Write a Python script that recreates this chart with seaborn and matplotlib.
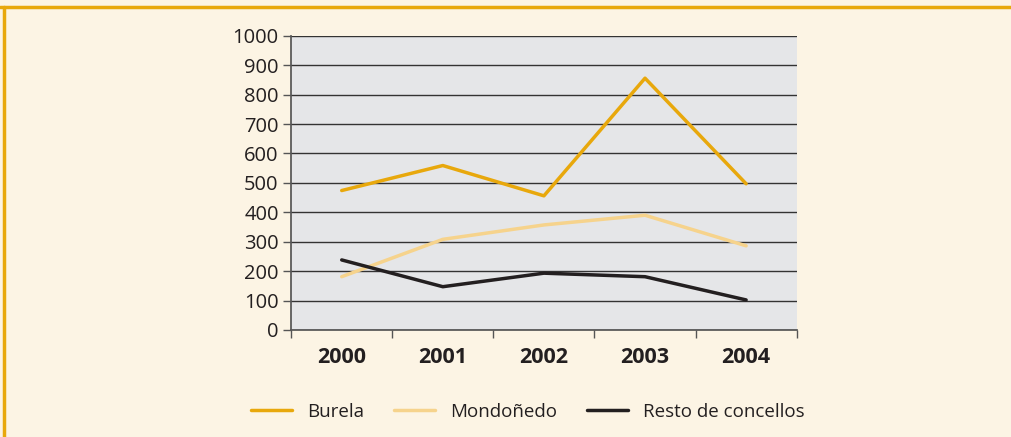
import numpy as np
import pandas as pd
import seaborn as sns
import matplotlib.pyplot as plt

years = ["2000", "2001", "2002", "2003", "2004"]
burela = [474, 559, 456, 856, 497]
mondonedo = [181, 308, 357, 390, 286]
resto = [238, 147, 193, 181, 102]
series_names = ["Burela", "Mondoñedo", "Resto de concellos"]
colors = ["#E8A80C", "#F6D38C", "#231F20"]

df = pd.DataFrame({
    "x": list(range(len(years))) * 3,
    "value": burela + mondonedo + resto,
    "serie": [s for s in series_names for _ in years],
})

sns.set_theme(style="white")
plt.rcParams["font.family"] = ["Open Sans", "DejaVu Sans"]

fig = plt.figure(figsize=(10.11, 4.37), dpi=100)
fig.patch.set_facecolor("#FCF4E4")
ax = fig.add_axes([0.288, 0.245, 0.5, 0.673])
ax.set_facecolor("#E5E6E8")

# orange frame (top and left)
fig.add_artist(plt.Line2D([0, 1], [0.985, 0.985], transform=fig.transFigure, color="#E8A80C", lw=2.5))
fig.add_artist(plt.Line2D([0.004, 0.004], [0, 0.985], transform=fig.transFigure, color="#E8A80C", lw=2.5))

sns.lineplot(data=df, x="x", y="value", hue="serie", palette=colors, linewidth=2.5, ax=ax, legend=True)

ax.set_xlim(-0.5, len(years) - 0.5)
ax.set_ylim(0, 1000)
ax.set_yticks(range(0, 1001, 100))
ax.yaxis.grid(True, color="#333333", linewidth=1)
ax.set_axisbelow(True)
ax.set_xticks(range(len(years)))
ax.set_xticklabels(years, fontweight="bold", fontsize=15.5, color="#231F20")
ax.set_xticks(np.arange(-0.5, len(years)), minor=True)
ax.tick_params(axis="x", which="major", bottom=True, length=0, pad=12)
ax.tick_params(axis="x", which="minor", bottom=True, length=6, width=1, color="#555555", direction="out")
ax.tick_params(axis="y", left=True, length=6, width=1, color="#555555", direction="out",
               labelsize=14.5, labelcolor="#231F20", pad=3)
for s in ["top", "right"]:
    ax.spines[s].set_visible(False)
ax.spines["left"].set_color("#555555")
ax.spines["bottom"].set_color("#555555")
ax.set_xlabel("")
ax.set_ylabel("")

handles, labels = ax.get_legend_handles_labels()
ax.legend(handles, labels, loc="center", bbox_to_anchor=(0.522, 0.058), bbox_transform=fig.transFigure,
          ncol=3, frameon=False, fontsize=13.5, handlelength=2.2, columnspacing=1.6, labelcolor="#231F20")

fig.savefig("out.png", dpi=100, facecolor=fig.get_facecolor())
